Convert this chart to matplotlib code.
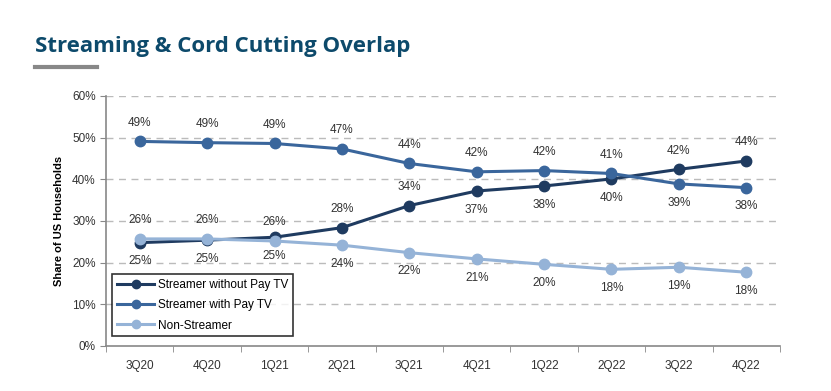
import numpy as np
import matplotlib.pyplot as plt
from matplotlib.ticker import FuncFormatter, FixedLocator

plt.rcParams["font.family"] = ["Liberation Sans", "DejaVu Sans"]

# ---------- data ----------
quarters = ["3Q20", "4Q20", "1Q21", "2Q21", "3Q21", "4Q21", "1Q22", "2Q22", "3Q22", "4Q22"]
no_paytv = [24.8, 25.4, 26.1, 28.4, 33.7, 37.2, 38.4, 40.1, 42.4, 44.4]
with_paytv = [49.1, 48.8, 48.6, 47.3, 43.8, 41.8, 42.1, 41.4, 38.9, 38.0]
non_streamer = [25.7, 25.7, 25.2, 24.2, 22.4, 20.9, 19.6, 18.4, 18.9, 17.7]

no_paytv_lbl = ["25%", "25%", "25%", "28%", "34%", "37%", "38%", "40%", "42%", "44%"]
with_paytv_lbl = ["49%", "49%", "49%", "47%", "44%", "42%", "42%", "41%", "39%", "38%"]
non_streamer_lbl = ["26%", "26%", "26%", "24%", "22%", "21%", "20%", "18%", "19%", "18%"]

# label placement: +1 above, -1 below
no_paytv_pos = [-1, -1, -1, 1, 1, -1, -1, -1, 1, 1]
with_paytv_pos = [1, 1, 1, 1, 1, 1, 1, 1, -1, -1]
non_streamer_pos = [1, 1, 1, -1, -1, -1, -1, -1, -1, -1]

c_dark = "#1f3b60"
c_mid = "#3a669c"
c_light = "#95b3d7"

fig = plt.figure(figsize=(8.31, 3.91), dpi=100)
ax = fig.add_axes([0.1276, 0.1151, 0.8110, 0.6394])

x = np.arange(len(quarters))
series = [
    (no_paytv, no_paytv_lbl, no_paytv_pos, c_dark, "Streamer without Pay TV"),
    (with_paytv, with_paytv_lbl, with_paytv_pos, c_mid, "Streamer with Pay TV"),
    (non_streamer, non_streamer_lbl, non_streamer_pos, c_light, "Non-Streamer"),
]
for vals, lbls, pos, col, name in series:
    ax.plot(x, vals, color=col, lw=2.2, marker="o", ms=7.5, label=name, zorder=3)
    for xi, v, t, p in zip(x, vals, lbls, pos):
        ax.annotate(t, (xi, v), xytext=(0, 13.5 * p), textcoords="offset points",
                    ha="center", va="center", fontsize=8.5, color="#333333")

# ---------- axes styling ----------
ax.set_xlim(-0.5, len(quarters) - 0.5)
ax.set_ylim(0, 60)
ax.set_yticks(np.arange(0, 61, 10))
ax.yaxis.set_major_formatter(FuncFormatter(lambda v, _: f"{v:.0f}%"))
ax.set_xticks(x)
ax.set_xticklabels(quarters)
ax.xaxis.set_minor_locator(FixedLocator(np.arange(-0.5, len(quarters), 1.0)))
ax.tick_params(axis="x", which="major", length=0, pad=10, labelsize=8.5, colors="#333333")
ax.tick_params(axis="x", which="minor", length=4, color="#888888")
ax.tick_params(axis="y", length=4, color="#888888", labelsize=8.5, labelcolor="#333333")

for s in ("top", "right"):
    ax.spines[s].set_visible(False)
for s in ("left", "bottom"):
    ax.spines[s].set_color("#888888")
    ax.spines[s].set_linewidth(1.2)

for yv in range(10, 61, 10):
    ax.axhline(yv, color="#bbbbbb", lw=1, ls=(0, (5, 4)), zorder=0)

ax.set_ylabel("Share of US Households", fontsize=8, fontweight="bold", labelpad=6)

leg = ax.legend(loc="lower left", bbox_to_anchor=(0.0, 0.015), fontsize=8.5,
                frameon=True, fancybox=False, handlelength=3.2, handletextpad=0.3,
                borderpad=0.4, labelspacing=0.7)
leg.get_frame().set_edgecolor("black")
leg.get_frame().set_linewidth(1.2)
for h in leg.legend_handles:
    h.set_markersize(6)

# ---------- title ----------
fig.text(0.042, 0.882, "Streaming & Cord Cutting Overlap", fontsize=16,
         fontweight="bold", color="#0d4a6b", family=["Open Sans", "DejaVu Sans"],
         va="center", ha="left")
fig.add_artist(plt.Line2D([0.042, 0.117], [0.828, 0.828], color="#888888", lw=3,
                          transform=fig.transFigure))

fig.savefig("out.png", dpi=100)
